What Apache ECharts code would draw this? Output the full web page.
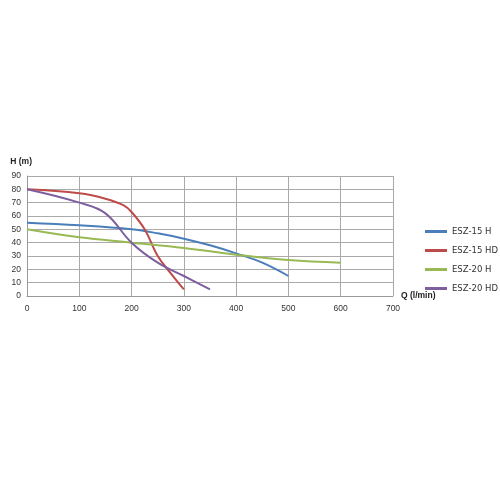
<!DOCTYPE html><html><head><meta charset="utf-8"><script src="https://cdn.jsdelivr.net/npm/echarts@6/dist/echarts.min.js"></script></head><body style="margin:0"><div id="c" style="width:500px;height:500px"></div><script>
const names=['ESZ-15 H','ESZ-15 HD','ESZ-20 H','ESZ-20 HD'];
const colors=['#4a7ebb','#be4b48','#98b954','#7d5fa0'];
const esz15H=[[0,55],[100,53],[200,50],[250,47],[300,43],[350,38],[400,32],[450,25],[500,15]];
const esz15HD=[[0,80],[100,77],[150,73],[185,68],[200,63],[225,50],[250,30],[275,17],[300,5]];
const esz20H=[[0,50],[100,44],[200,40],[300,36],[400,31],[500,27],[600,25]];
const esz20HD=[[0,80],[100,70],[150,62],[200,40],[250,25],[300,15],[350,5]];
const data=[esz15H,esz15HD,esz20H,esz20HD];
const ch=echarts.init(document.getElementById('c'));
ch.setOption({
 animation:false,
 legend:{orient:'vertical',left:420,top:222,itemWidth:22,itemHeight:3,itemGap:10,icon:'rect',textStyle:{fontSize:8.5,color:'#333',fontFamily:'DejaVu Sans'},data:names},
 grid:{left:27,right:107,top:176,bottom:204,containLabel:false},
 xAxis:{type:'value',min:0,max:700,interval:100,name:'Q (l/min)',nameGap:8,nameTextStyle:{fontSize:8.5,fontWeight:'bold',color:'#222'},
  axisLine:{lineStyle:{color:'#999'}},axisTick:{show:false},axisLabel:{fontSize:8.5,color:'#333'},splitLine:{lineStyle:{color:'#aaa'}}},
 yAxis:{type:'value',min:0,max:90,interval:10,name:'H (m)',nameLocation:'end',nameGap:10,nameTextStyle:{fontSize:8.5,fontWeight:'bold',color:'#222',align:'right',padding:[0,-5,0,0]},
  axisLine:{show:true,lineStyle:{color:'#999'}},axisTick:{show:false},axisLabel:{fontSize:8.5,color:'#333',margin:6},splitLine:{lineStyle:{color:'#aaa'}}},
 series:names.map((n,i)=>({name:n,type:'line',smooth:0.4,data:data[i],showSymbol:false,lineStyle:{width:2,color:colors[i]},itemStyle:{color:colors[i]}}))
});
</script></body></html>
